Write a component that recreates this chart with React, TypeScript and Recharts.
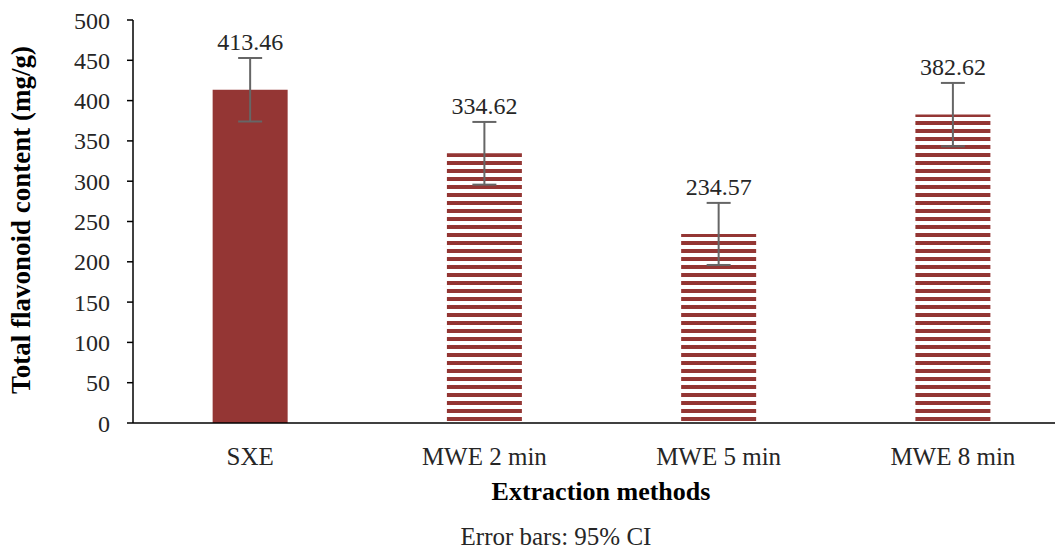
import React from 'react';
import { BarChart, Bar, XAxis, YAxis, Cell, ErrorBar, LabelList } from 'recharts';

const categories = ['SXE', 'MWE 2 min', 'MWE 5 min', 'MWE 8 min'];
const values = [413.46, 334.62, 234.57, 382.62];
const errors = [39.4, 38.9, 38.5, 39.3];
const yTicks = [0, 50, 100, 150, 200, 250, 300, 350, 400, 450, 500];

const data = categories.map((c, i) => ({ name: c, value: values[i], err: errors[i] }));

const FONT = '"Liberation Serif", "DejaVu Serif", serif';
const RED = '#943634';

const renderLabel = (props: any) => {
  const { x, y, width, height, value, index } = props;
  const pxPerUnit = height / value;
  const capY = y - errors[index] * pxPerUnit;
  return (
    <text x={x + width / 2} y={capY - 8} textAnchor="middle" fontSize={24} fill="#262626" fontFamily={FONT}>
      {value.toFixed(2)}
    </text>
  );
};

export default function App() {
  return (
    <div style={{ position: 'absolute', left: 0, top: 0, width: 1055, height: 550, overflow: 'hidden', background: '#fff', fontFamily: FONT }}>
      <BarChart
        width={1070}
        height={550}
        data={data}
        margin={{ top: 20, right: 0, bottom: 0, left: 0 }}
        barCategoryGap="34%"
      >
        <defs>
          <pattern id="stripes" patternUnits="userSpaceOnUse" x={0} y={1} width={8} height={8}>
            <rect x={0} y={0} width={8} height={4} fill={RED} />
          </pattern>
        </defs>
        <XAxis
          dataKey="name"
          height={127}
          tickLine={false}
          tickSize={0}
          tickMargin={24}
          axisLine={{ stroke: '#000', strokeWidth: 1.5 }}
          tick={{ fontSize: 25, fill: '#262626', fontFamily: FONT }}
          interval={0}
        />
        <YAxis
          width={133}
          domain={[0, 500]}
          ticks={yTicks}
          interval={0}
          tickSize={6}
          tickMargin={17}
          axisLine={{ stroke: '#000', strokeWidth: 1.5 }}
          tickLine={{ stroke: '#000', strokeWidth: 1.5 }}
          tick={{ fontSize: 24, fill: '#262626', fontFamily: FONT }}
        />
        <Bar dataKey="value" isAnimationActive={false}>
          {data.map((d, i) => (
            <Cell key={d.name} fill={i === 0 ? RED : 'url(#stripes)'} />
          ))}
          <ErrorBar dataKey="err" direction="y" width={12} strokeWidth={2} stroke="#666666" isAnimationActive={false} />
          <LabelList dataKey="value" content={renderLabel} />
        </Bar>
      </BarChart>
      <svg width={1055} height={550} style={{ position: 'absolute', left: 0, top: 0, pointerEvents: 'none' }}>
        <text
          x={0}
          y={0}
          transform="translate(30 220) rotate(-90)"
          textAnchor="middle"
          fontSize={27}
          fontWeight="bold"
          fill="#000"
          fontFamily={FONT}
        >
          Total flavonoid content (mg/g)
        </text>
        <text x={601} y={500} textAnchor="middle" fontSize={26} fontWeight="bold" fill="#000" fontFamily={FONT}>
          Extraction methods
        </text>
        <text x={556} y={545} textAnchor="middle" fontSize={25} fill="#262626" fontFamily={FONT}>
          Error bars: 95% CI
        </text>
      </svg>
    </div>
  );
}
